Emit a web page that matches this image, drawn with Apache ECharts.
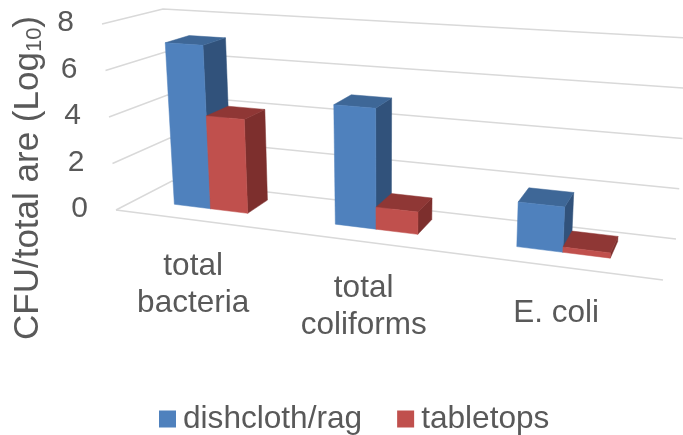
<!DOCTYPE html>
<html>
<head>
<meta charset="utf-8">
<style>
html, body { margin: 0; padding: 0; background: #fff; }
#chart { width: 683px; height: 435px; }
</style>
<script src="https://cdn.jsdelivr.net/npm/echarts@6/dist/echarts.min.js"></script>
</head>
<body>
<div id="chart"></div>
<script>
var categories = ['total\nbacteria', 'total\ncoliforms', 'E. coli'];
var dishclothValues = [7.05, 4.95, 1.75];
var tabletopValues = [4.0, 0.9, 0.2];
var yTicks = [0, 2, 4, 6, 8];
var seriesNames = ['dishcloth/rag', 'tabletops'];

var FONT = '"Liberation Sans", Arial, sans-serif';
var TEXT_COLOR = '#595959';

// corners of the 3D box on screen: [depth][height] for left and right end
var BOX = {
    left: { frontLow: [116, 210], frontHigh: [102, 24], backLow: [172, 181], backHigh: [163, 9] },
    right: { frontLow: [663, 280], frontHigh: [677, 60], backLow: [676, 239], backHigh: [689, 38] }
};
var PERSPECTIVE = 1.2; // right side of the box is closer to the camera
var BAR_DEPTH = [0.36, 0.78];

function mix(a, b, t) {
    return [a[0] + (b[0] - a[0]) * t, a[1] + (b[1] - a[1]) * t];
}

function project(u, z, v) {
    var t = u / (u + (1 - u) * PERSPECTIVE);
    var l = BOX.left;
    var r = BOX.right;
    var left = mix(mix(l.frontLow, l.frontHigh, v), mix(l.backLow, l.backHigh, v), z);
    var right = mix(mix(r.frontLow, r.frontHigh, v), mix(r.backLow, r.backHigh, v), z);
    return mix(left, right, t);
}

// pixel position on the hidden grid -> 0..1 inside that grid
function unitX(px, sys) {
    return (px - sys.x) / sys.width;
}
function unitY(py, sys) {
    return (sys.y + sys.height - py) / sys.height;
}

function face(points, color) {
    return { type: 'polygon', shape: { points: points }, style: { fill: color, stroke: color, lineWidth: 0.5 } };
}

function makeBarRenderer(from, to, colors) {
    return function (params, api) {
        var sys = params.coordSys;
        var p = api.coord([api.value(0), api.value(1)]);
        var band = api.size([1, 0])[0];
        var u0 = unitX(p[0] + band * from, sys);
        var u1 = unitX(p[0] + band * to, sys);
        var v = unitY(p[1], sys);
        var z0 = BAR_DEPTH[0];
        var z1 = BAR_DEPTH[1];
        return {
            type: 'group',
            children: [
                face([project(u1, z0, 0), project(u1, z1, 0), project(u1, z1, v), project(u1, z0, v)], colors.side),
                face([project(u0, z0, v), project(u1, z0, v), project(u1, z1, v), project(u0, z1, v)], colors.top),
                face([project(u0, z0, 0), project(u1, z0, 0), project(u1, z0, v), project(u0, z0, v)], colors.front)
            ]
        };
    };
}

function renderWall(params, api) {
    var sys = params.coordSys;
    var tick = api.value(0);
    var v = unitY(api.coord([0, tick])[1], sys);
    var lineStyle = { stroke: '#D9D9D9', lineWidth: 1.5, fill: null };
    var start = project(0, 0, v);
    var children = [{
        type: 'polyline',
        shape: { points: [start, project(0, 1, v), project(1, 1, v)] },
        style: lineStyle
    }, {
        type: 'text',
        style: {
            text: String(tick),
            x: start[0] - 28,
            y: start[1] - 1,
            align: 'right',
            verticalAlign: 'middle',
            fill: TEXT_COLOR,
            font: '30px ' + FONT
        }
    }];
    if (tick === 0) {
        children.push({
            type: 'line',
            shape: { x1: start[0], y1: start[1], x2: project(1, 0, 0)[0], y2: project(1, 0, 0)[1] },
            style: lineStyle
        });
    }
    return { type: 'group', children: children };
}

function renderCategory(params, api) {
    var sys = params.coordSys;
    var i = api.value(0);
    var u = unitX(api.coord([i, 0])[0], sys);
    var pos = project(u, 0, 0);
    return {
        type: 'text',
        style: {
            text: categories[i],
            x: pos[0] - 1,
            y: pos[1] + 28,
            align: 'center',
            verticalAlign: 'top',
            lineHeight: 37,
            fill: TEXT_COLOR,
            font: '31.5px ' + FONT
        }
    };
}

var myChart = echarts.init(document.getElementById('chart'));

var option = {
    animation: false,
    grid: { left: 100, top: 20, width: 500, height: 200 },
    xAxis: { type: 'category', data: categories, show: false },
    yAxis: { type: 'value', min: 0, max: 8, interval: 2, show: false },
    legend: {
        data: seriesNames,
        left: 154,
        top: 398,
        icon: 'rect',
        itemWidth: 17,
        itemHeight: 17,
        itemGap: 35,
        textStyle: { color: TEXT_COLOR, fontSize: 31.6, fontFamily: FONT, padding: [0, 0, 0, 2] }
    },
    graphic: [{
        type: 'text',
        rotation: Math.PI / 2,
        x: 11,
        y: 340,
        style: {
            text: '{a|CFU/total are (Log}{b|10}{a|)}',
            rich: {
                a: { fontSize: 35, fontFamily: FONT, fill: TEXT_COLOR, color: TEXT_COLOR },
                b: { fontSize: 22, fontFamily: FONT, fill: TEXT_COLOR, color: TEXT_COLOR, padding: [12, 0, 0, 0] }
            }
        }
    }],
    series: [{
        name: 'wall',
        type: 'custom',
        coordinateSystem: 'cartesian2d',
        silent: true,
        z: 1,
        data: yTicks.map(function (t) { return [t]; }),
        encode: { y: 0 },
        renderItem: renderWall
    }, {
        name: 'labels',
        type: 'custom',
        coordinateSystem: 'cartesian2d',
        silent: true,
        z: 1,
        data: categories.map(function (c, i) { return [i]; }),
        encode: { x: 0 },
        renderItem: renderCategory
    }, {
        name: seriesNames[0],
        type: 'custom',
        coordinateSystem: 'cartesian2d',
        z: 2,
        itemStyle: { color: '#4F81BD' },
        data: dishclothValues.map(function (d, i) { return [i, d]; }),
        encode: { x: 0, y: 1 },
        renderItem: makeBarRenderer(-0.245, -0.01, { front: '#4F81BD', top: '#3E6797', side: '#31527B' })
    }, {
        name: seriesNames[1],
        type: 'custom',
        coordinateSystem: 'cartesian2d',
        z: 3,
        itemStyle: { color: '#C0504D' },
        data: tabletopValues.map(function (d, i) { return [i, d]; }),
        encode: { x: 0, y: 1 },
        renderItem: makeBarRenderer(-0.01, 0.225, { front: '#C0504D', top: '#8F3735', side: '#7D2F2D' })
    }]
};
myChart.setOption(option);
</script>
</body>
</html>
